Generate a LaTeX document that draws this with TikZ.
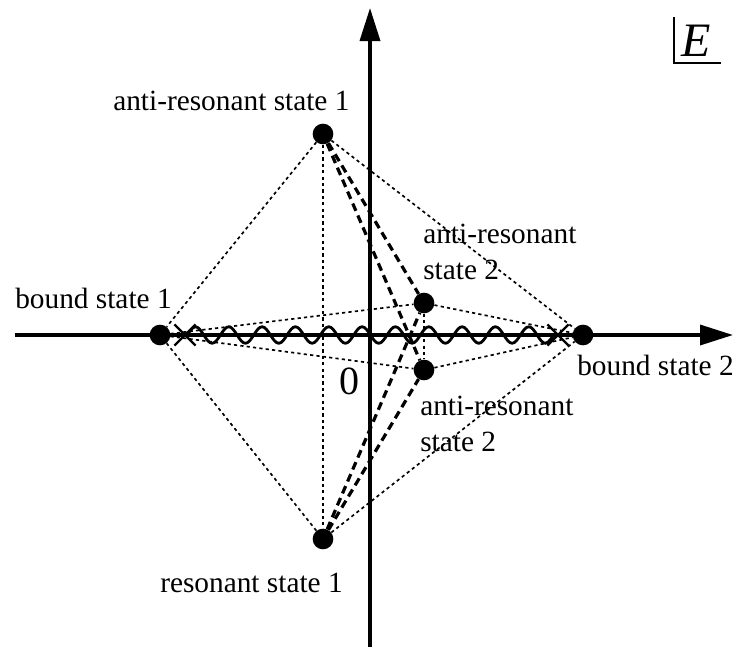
\documentclass[tikz,border=0pt]{standalone}
\usepackage{fontspec}
\setmainfont{Liberation Serif}
\usetikzlibrary{arrows.meta}
\usetikzlibrary{shapes.misc}
\usetikzlibrary{decorations.pathmorphing}

\begin{document}
\begin{tikzpicture}[x=0.75pt,y=0.75pt,yscale=-1,xscale=1,
  state/.style={circle,fill=black,inner sep=0pt,minimum size=15.5pt},
  branch/.style={cross out,draw=black,line width=1.8pt,inner sep=0pt,minimum size=14pt},
  axis/.style={line width=2.6pt,-{Triangle[length=24.75pt,width=15pt]}},
  fineline/.style={line width=1.25pt,dash pattern={on 2.4pt off 2.4pt}},
  thickdash/.style={line width=2.4pt,dash pattern={on 6pt off 3.75pt}},
  cut/.style={line width=2.1pt,decorate,decoration={snake,segment length=25pt,amplitude=6.2pt}},
  txt/.style={inner sep=0pt,font=\fontsize{22}{27}\selectfont}]
\useasboundingbox (0,0) rectangle (742,647);

%Axes
\coordinate (xstart) at (15,335);
\coordinate (xend) at (733,335);
\coordinate (ystart) at (370,647);
\coordinate (yend) at (370,8);
\draw [axis] (xstart) -- (xend) ;
\draw [axis] (ystart) -- (yend) ;

%Shape: States
\node [state] (bs1) at (160,335) {};
\node [state] (bs2) at (583,335) {};
\node [state] (ar1) at (323,134) {};
\node [state] (rs1) at (323,539) {};
\node [state] (ar2u) at (424,303) {};
\node [state] (ar2l) at (424,370) {};

%Shape: Branch points
\node [branch] (bp1) at (185,335) {};
\node [branch] (bp2) at (558,335) {};

%Straight Lines (dotted)
\draw [fineline] (ar1) -- (bs1) ;
\draw [fineline] (ar1) -- (bs2) ;
\draw [fineline] (ar1) -- (rs1) ;
\draw [fineline] (rs1) -- (bs1) ;
\draw [fineline] (rs1) -- (bs2) ;
\draw [fineline] (bs1) -- (ar2u) ;
\draw [fineline] (bs1) -- (ar2l) ;
\draw [fineline] (ar2u) -- (bs2) ;
\draw [fineline] (ar2l) -- (bs2) ;
\draw [fineline] (ar2u) -- (ar2l) ;

%Straight Lines (dashed)
\draw [thickdash] (ar1) -- (ar2u) ;
\draw [thickdash] (ar1) -- (ar2l) ;
\draw [thickdash] (rs1) -- (ar2u) ;
\draw [thickdash] (rs1) -- (ar2l) ;

%Wavy Line (cut)
\draw [cut] (bp1.center) -- (bp2.center) ;

%Corner of E
\draw [line width=1.1pt] (674,17) -- (674,63) -- (721,63) ;

% Text Node
\node [txt,anchor=base west] (ar1text) at (113,110) {anti-resonant state 1};
% Text Node
\node [txt,anchor=base west] (bs1text) at (15,308) {bound state 1};
% Text Node
\node [txt,anchor=base west] (rs1text) at (160,592) {resonant state 1};
% Text Node
\node [txt,anchor=base west] (bs2text) at (577,375) {bound state 2};
% Text Node
\node [txt,anchor=north west,align=left] (ar2utext) at (423,224) {anti-resonant\\state 2};
% Text Node
\node [txt,anchor=north west,align=left] (ar2ltext) at (420,396) {anti-resonant\\state 2};
% Text Node
\node [txt,font=\fontsize{30}{34}\selectfont] (zero) at (349,381) {0};
% Text Node
\node [txt,anchor=base west,font=\fontsize{36}{40}\selectfont\itshape] (elabel) at (681,56) {E};

\end{tikzpicture}
\end{document}
